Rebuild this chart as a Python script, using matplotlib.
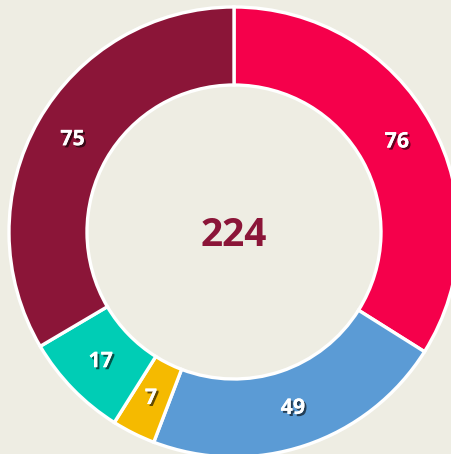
import matplotlib.pyplot as plt
import matplotlib.patheffects as pe

# Segment values, clockwise from 12 o'clock
labels = ["A", "B", "C", "D", "E"]
values = [76, 49, 7, 17, 75]
colors = ["#F5004B", "#5B9BD5", "#F5BA00", "#00CDB5", "#8B1538"]

bg = "#EEEDE3"
W, H = 451, 454

fig = plt.figure(figsize=(W / 100, H / 100), dpi=100, facecolor=bg)
ax = fig.add_axes([0, 0, 1, 1])
ax.set_facecolor(bg)

cx, cy = 234, H - 232
r_out, r_in = 225, 147
width = r_out - r_in

wedges, texts = ax.pie(
    values, colors=colors, startangle=90, counterclock=False,
    center=(cx, cy), radius=r_out, frame=True,
    labels=[str(v) for v in values], labeldistance=(r_out - width / 2) / r_out,
    wedgeprops=dict(width=width, edgecolor="white", linewidth=2.4),
    textprops=dict(color="white", fontsize=15.5, fontweight="bold",
                   family="Open Sans", ha="center", va="center"),
)
ax.set_xlim(0, W)
ax.set_ylim(0, H)
ax.axis("off")

for t in texts:
    t.set_path_effects([
        pe.withSimplePatchShadow(offset=(1.5, -1.5), shadow_rgbFace="black", alpha=0.6),
        pe.Normal(),
    ])

ax.text(cx, cy - 3, str(sum(values)), ha="center", va="center", fontsize=28,
        fontweight="bold", color="#8B1538", family="Open Sans")

fig.savefig("out.png", dpi=100, facecolor=bg)
